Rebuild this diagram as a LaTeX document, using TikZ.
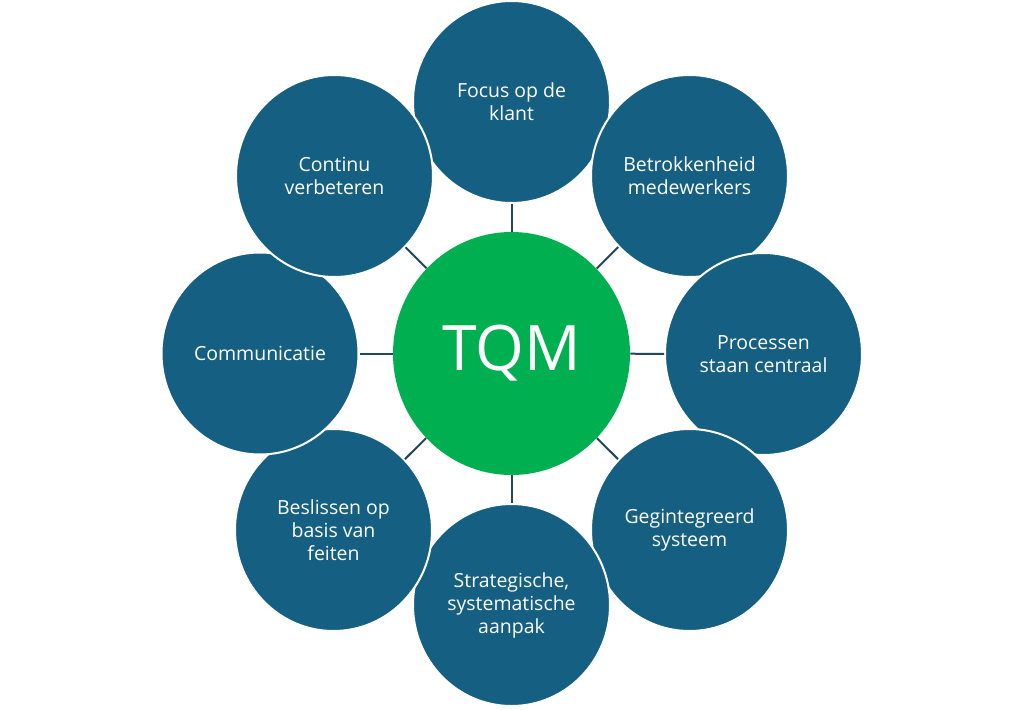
\documentclass[tikz,border=0pt]{standalone}
\usepackage{fontspec}
\setmainfont{Open Sans}
\usetikzlibrary{shapes.geometric}
\definecolor{tqmblue}{HTML}{156082}
\definecolor{tqmgreen}{HTML}{00B050}
\definecolor{tqmline}{HTML}{24465C}
\tikzset{
  pillar/.style={ellipse, fill=tqmblue, draw=white, line width=1.5pt,
    minimum width=147.75pt, minimum height=151.5pt, inner sep=0pt,
    text=white, align=center, font=\fontsize{14.6pt}{17.25pt}\selectfont},
  hub/.style={ellipse, fill=tqmgreen, minimum width=177.75pt, minimum height=182.25pt,
    inner sep=0pt, text=white, font=\fontsize{47pt}{54pt}\selectfont},
  link/.style={draw=tqmline, line width=1.5pt}
}
\begin{document}
\begin{tikzpicture}[x=0.75pt,y=-0.75pt]
\useasboundingbox[fill=white] (0,0) rectangle (1024,710);
\node[pillar] (c1) at (511.5,102) {Focus op de\\klant};
\node[pillar] (c2) at (689.5,176) {Betrokkenheid\\medewerkers};
\node[pillar] (c3) at (763.5,354) {Processen\\staan centraal};
\node[pillar] (c4) at (689.5,530) {Gegintegreerd\\systeem};
\node[pillar] (c5) at (511.5,605) {Strategische,\\systematische\\aanpak};
\node[pillar] (c6) at (333.5,530) {Beslissen op\\basis van\\feiten};
\node[pillar] (c7) at (260,353.5) {Communicatie};
\node[pillar] (c8) at (334.5,176) {Continu\\verbeteren};
\node[hub] (tqm) at (511.5,353.5) {TQM};
\foreach \c in {c1,c2,c3,c4,c5,c6,c7,c8}
  \draw[link] (tqm) -- (\c);
\end{tikzpicture}
\end{document}
